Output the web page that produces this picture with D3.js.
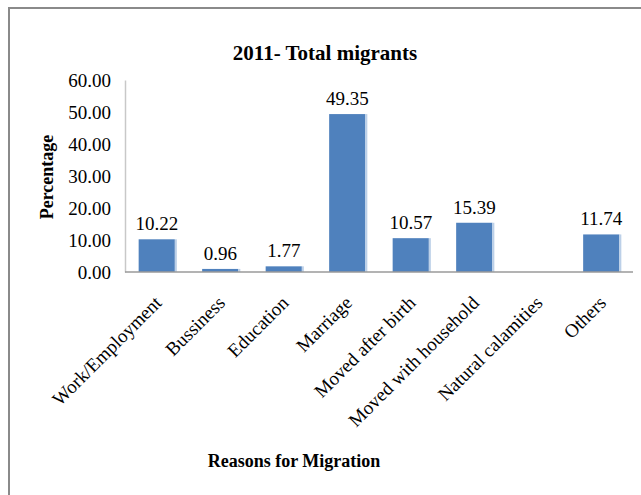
<!DOCTYPE html>
<html>
<head>
<meta charset="utf-8">
<script src="https://cdn.jsdelivr.net/npm/d3@7"></script>
<style>
  html, body { margin: 0; padding: 0; background: #fff; }
</style>
</head>
<body>
<svg id="chart" width="641" height="495"></svg>
<script>
// Reasons for migration, 2011 (percentage of total migrants)
const categories = ["Work/Employment", "Bussiness", "Education", "Marriage",
  "Moved after birth", "Moved with household", "Natural calamities", "Others"];
const values = [10.22, 0.96, 1.77, 49.35, 10.57, 15.39, null, 11.74];
const yTicks = [0, 10, 20, 30, 40, 50, 60];

const FONT = '"Liberation Serif", "Times New Roman", serif';
const svg = d3.select("#chart").style("font-family", FONT);
const W = 641, H = 495;
const plot = { left: 125, right: 633, top: 80, bottom: 272 };

// outer frame (open on the right and bottom edges)
svg.append("rect")
  .attr("x", 9).attr("y", 8)
  .attr("width", W + 20).attr("height", H + 20)
  .attr("fill", "none").attr("stroke", "#8a8a8a").attr("stroke-width", 2);

const x = d3.scaleBand().domain(categories)
  .range([plot.left, plot.right]).paddingInner(0.43).paddingOuter(0.215);
const y = d3.scaleLinear().domain([0, 60]).range([plot.bottom, plot.top]);

// title
svg.append("text")
  .attr("x", 325).attr("y", 60)
  .attr("text-anchor", "middle")
  .style("font-family", FONT)
  .style("font-size", "21px").style("font-weight", "bold")
  .text("2011- Total migrants");

// y axis
const yAxis = svg.append("g")
  .attr("transform", `translate(${plot.left},0)`)
  .call(d3.axisLeft(y).tickValues(yTicks).tickFormat(d3.format(".2f")).tickSize(0).tickPadding(14));
yAxis.attr("font-family", null).attr("font-size", null);
yAxis.select(".domain").attr("stroke", "#c8c8c8").attr("stroke-width", 1.5);
yAxis.selectAll("text")
  .style("font-family", FONT)
  .style("font-size", "19px");

// bars
const data = categories.map((c, i) => ({ c, v: values[i] })).filter(d => d.v != null);
svg.append("g").selectAll("rect.bar")
  .data(data).join("rect")
  .attr("class", "bar")
  .attr("x", d => x(d.c))
  .attr("y", d => y(d.v))
  .attr("width", x.bandwidth())
  .attr("height", d => y(0) - y(d.v))
  .attr("fill", "#4f81bd");
// pale edge on the right side of each bar
svg.append("g").selectAll("rect.edge")
  .data(data).join("rect")
  .attr("x", d => x(d.c) + x.bandwidth())
  .attr("y", d => y(d.v))
  .attr("width", 2)
  .attr("height", d => y(0) - y(d.v))
  .attr("fill", "#bcd0e8");

// x axis line
svg.append("line")
  .attr("x1", plot.left).attr("x2", plot.right)
  .attr("y1", plot.bottom).attr("y2", plot.bottom)
  .attr("stroke", "#9a9a9a").attr("stroke-width", 1.5);

// value labels
svg.append("g").selectAll("text")
  .data(data).join("text")
  .attr("x", d => x(d.c) + x.bandwidth() / 2)
  .attr("y", d => y(d.v) - 9)
  .attr("text-anchor", "middle")
  .style("font-family", FONT)
  .style("font-size", "19px")
  .text(d => d.v.toFixed(2));

// category labels, rotated
svg.append("g").selectAll("text")
  .data(categories).join("text")
  .attr("transform", d => `translate(${x(d) + x.bandwidth() / 2 + 6},${plot.bottom + 32}) rotate(-45)`)
  .attr("text-anchor", "end")
  .style("font-family", FONT)
  .style("font-size", "19px")
  .text(d => d);

// axis titles
svg.append("text")
  .attr("transform", "translate(53,177) rotate(-90)")
  .attr("text-anchor", "middle")
  .style("font-family", FONT)
  .style("font-size", "18px").style("font-weight", "bold")
  .text("Percentage");

svg.append("text")
  .attr("x", 294).attr("y", 467)
  .attr("text-anchor", "middle")
  .style("font-family", FONT)
  .style("font-size", "18px").style("font-weight", "bold")
  .text("Reasons for Migration");
</script>
</body>
</html>
